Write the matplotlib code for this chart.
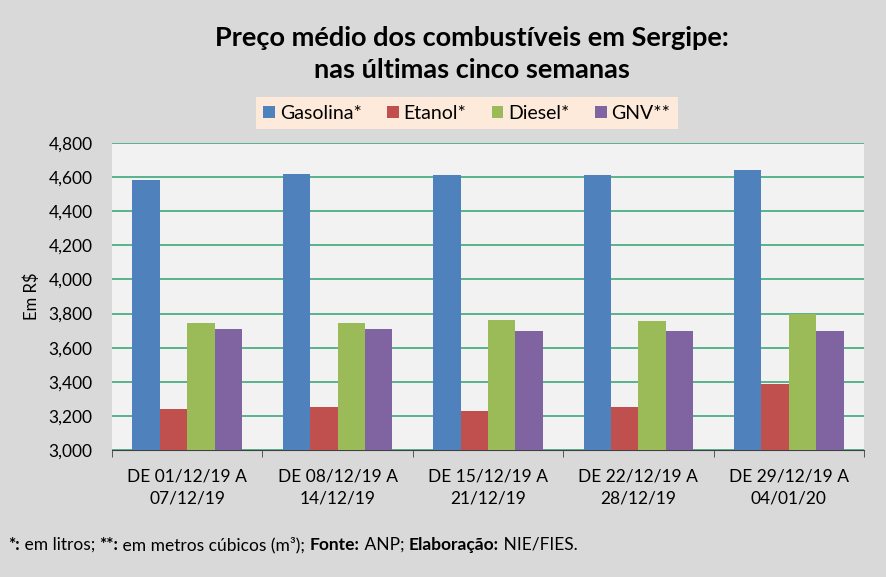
"""
Preço médio dos combustíveis em Sergipe - últimas cinco semanas
"""

import numpy as np
import matplotlib
matplotlib.use("Agg")
import matplotlib.pyplot as plt
from matplotlib.ticker import FuncFormatter, FixedLocator

plt.rcParams["font.family"] = ["Lato", "DejaVu Sans"]

# ── dados ─────────────────────────────────────────────────────────────────────
semanas = ["DE 01/12/19 A\n07/12/19", "DE 08/12/19 A\n14/12/19",
           "DE 15/12/19 A\n21/12/19", "DE 22/12/19 A\n28/12/19",
           "DE 29/12/19 A\n04/01/20"]
combustiveis = ["Gasolina*", "Etanol*", "Diesel*", "GNV**"]
gasolina = [4.581, 4.618, 4.614, 4.614, 4.643]
etanol   = [3.240, 3.250, 3.229, 3.254, 3.389]
diesel   = [3.743, 3.747, 3.765, 3.759, 3.800]
gnv      = [3.712, 3.712, 3.696, 3.696, 3.696]
cores = ["#4F81BD", "#C0504D", "#9BBB59", "#8064A2"]

# ── figura ────────────────────────────────────────────────────────────────────
fig = plt.figure(figsize=(8.86, 5.77), dpi=100, facecolor="#D9D9D9")
ax = fig.add_axes([0.1264, 0.2201, 0.8488, 0.5321])
ax.set_facecolor("#F2F2F2")

x = np.arange(len(semanas))
w = 0.182
series = [gasolina, etanol, diesel, gnv]
for i, (vals, nome, cor) in enumerate(zip(series, combustiveis, cores)):
    ax.bar(x + (i - 1.5) * w, vals, width=w, color=cor, label=nome, zorder=3)

ax.set_xlim(-0.5, len(semanas) - 0.5)
ax.set_ylim(3.0, 4.8)
ax.yaxis.set_major_locator(FixedLocator(np.arange(3.0, 4.81, 0.2)))
ax.yaxis.set_major_formatter(FuncFormatter(lambda v, p: f"{v * 1000:,.0f}"))
ax.grid(axis="y", color="#4BAE84", linewidth=1.3, zorder=1)

ax.set_xticks(x)
ax.set_xticklabels(semanas, fontsize=12.5, linespacing=1.5)
ax.set_xticks(np.arange(-0.5, len(semanas)), minor=True)
ax.tick_params(axis="x", which="major", length=0, pad=13)
ax.tick_params(axis="x", which="minor", length=5, color="#404040", direction="out")
ax.tick_params(axis="y", length=0, labelsize=12.5, pad=14)

for s in ["top", "right", "left"]:
    ax.spines[s].set_visible(False)
ax.spines["bottom"].set_color("#404040")

ax.set_ylabel("Em R$", fontsize=12, labelpad=6)

fig.text(0.533, 1 - 54 / 577, "Preço médio dos combustíveis em Sergipe:\nnas últimas cinco semanas",
         ha="center", va="center", fontsize=19.5, fontweight="bold", linespacing=1.38)

leg = fig.legend(loc="center", bbox_to_anchor=(0.527, 0.804), ncol=4, fontsize=14,
                 frameon=True, fancybox=False, handlelength=0.6, handleheight=0.6,
                 handletextpad=0.25, columnspacing=1.3, borderpad=0.4)
leg.get_frame().set_facecolor("#FDEADA")
leg.get_frame().set_edgecolor("none")
leg.get_frame().set_alpha(1)

# ── nota de rodapé (partes em negrito) ────────────────────────────────────────
partes = [("*:", "bold"), (" em litros; ", "normal"), ("**:", "bold"),
          (" em metros cúbicos (m³); ", "normal"), ("Fonte:", "bold"),
          (" ANP; ", "normal"), ("Elaboração:", "bold"), (" NIE/FIES.", "normal")]
r = fig.canvas.get_renderer()
xpos = 8 / 886
for txt, peso in partes:
    t = fig.text(xpos, 1 - 545 / 577, txt, fontsize=12.5, fontweight=peso, va="center")
    bb = t.get_window_extent(renderer=r)
    xpos += bb.width / fig.bbox.width

fig.savefig("out.png", dpi=100, facecolor=fig.get_facecolor())
